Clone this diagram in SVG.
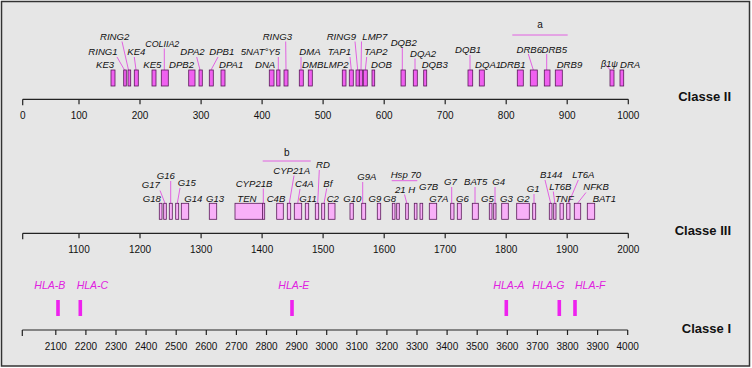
<svg xmlns="http://www.w3.org/2000/svg" width="752" height="368" viewBox="0 0 752 368">
<style>
text{font-family:"Liberation Sans",Arial,sans-serif;fill:#111}
.g{font-size:9.6px;font-style:italic}
.t{font-size:10px}
.c{font-size:13px;font-weight:bold;text-anchor:end}
.h{font-size:10.5px;font-style:italic;fill:#e020e0}
.n{text-anchor:middle}
.b1{fill:#f060f0;stroke:#5a1a5a;stroke-width:0.8}
.b2{fill:#f8b0f8;stroke:#5a1a5a;stroke-width:0.8}
.ld{stroke:#e040e0;stroke-width:0.8;fill:none}
.ax{stroke:#222;stroke-width:1.2;fill:none}
.hb{fill:#ee22ee}
</style>
<rect x="0" y="0" width="752" height="368" fill="#fff"/>
<rect x="1.5" y="1.5" width="748" height="364.5" fill="#e6e6e6" stroke="#333" stroke-width="1.5"/>

<g id="axis-classe-II">
<path class="ax" d="M22.7 99.3H628.3M22.7 99.3v6M79 99.3v5M140 99.3v5M201.1 99.3v5M262.1 99.3v5M323.1 99.3v5M384.2 99.3v5M445.2 99.3v5M506.2 99.3v5M567.2 99.3v5M628.3 99.3v5"/>
<g class="t n">
<text x="22.7" y="119.3">0</text><text x="79" y="119.3">100</text><text x="140" y="119.3">200</text><text x="201.1" y="119.3">300</text><text x="262.1" y="119.3">400</text><text x="323.1" y="119.3">500</text><text x="384.2" y="119.3">600</text><text x="445.2" y="119.3">700</text><text x="506.2" y="119.3">800</text><text x="567.2" y="119.3">900</text><text x="628.3" y="119.3">1000</text>
</g>
<text class="c" x="731" y="101">Classe II</text>
</g>

<g id="axis-classe-III">
<path class="ax" d="M22.7 233.3H628.3M22.7 233.3v6M79 233.3v5M140 233.3v5M201.1 233.3v5M262.1 233.3v5M323.1 233.3v5M384.2 233.3v5M445.2 233.3v5M506.2 233.3v5M567.2 233.3v5M628.3 233.3v5"/>
<g class="t n">
<text x="79" y="253.3">1100</text><text x="140" y="253.3">1200</text><text x="201.1" y="253.3">1300</text><text x="262.1" y="253.3">1400</text><text x="323.1" y="253.3">1500</text><text x="384.2" y="253.3">1600</text><text x="445.2" y="253.3">1700</text><text x="506.2" y="253.3">1800</text><text x="567.2" y="253.3">1900</text><text x="628.3" y="253.3">2000</text>
</g>
<text class="c" x="731" y="234.5">Classe III</text>
</g>

<g id="axis-classe-I">
<path class="ax" d="M22.3 330H627.7M22.3 330v6M55.8 330v5M85.9 330v5M116 330v5M146.1 330v5M176.2 330v5M206.3 330v5M236.4 330v5M266.5 330v5M296.6 330v5M326.7 330v5M356.8 330v5M386.9 330v5M417 330v5M447.1 330v5M477.2 330v5M507.3 330v5M537.4 330v5M567.5 330v5M597.6 330v5M627.7 330v5"/>
<g class="t n">
<text x="55.8" y="350">2100</text><text x="85.9" y="350">2200</text><text x="116" y="350">2300</text><text x="146.1" y="350">2400</text><text x="176.2" y="350">2500</text><text x="206.3" y="350">2600</text><text x="236.4" y="350">2700</text><text x="266.5" y="350">2800</text><text x="296.6" y="350">2900</text><text x="326.7" y="350">3000</text><text x="356.8" y="350">3100</text><text x="386.9" y="350">3200</text><text x="417" y="350">3300</text><text x="447.1" y="350">3400</text><text x="477.2" y="350">3500</text><text x="507.3" y="350">3600</text><text x="537.4" y="350">3700</text><text x="567.5" y="350">3800</text><text x="597.6" y="350">3900</text><text x="627.7" y="350">4000</text>
</g>
<text class="c" x="731" y="333">Classe I</text>
</g>

<g id="connectors">
<path class="ld" d="M122 41.5L128.5 70M117 57L124.5 70M134.3 57L136 70M164.3 48.5V70M196.7 57L200 70M218 57L211 70M278.3 57V70M285.7 41.5L286 70M301 57V70M350 57L351.3 70M355 41.5L357.7 70M361.5 41.5L361 70M366.7 57L365.3 70M402.3 48V70M415 58.5V70M470 55V70M528.3 54L533.3 70M546.7 54V70M606 65L611 71"/>
<path class="ld" d="M512.3 35H567.7"/>
<path class="ld" d="M160 190.5L165 203.3M170.7 181V203.3M180 188L177.3 203.3M263.3 188.5V203.3M294 175.5L289.3 203.3M300 189L297.7 203.3M319.3 170L317.7 203.3M326.7 188.5L324 203.3M362.7 182V203.3M404.5 194.5L406.8 203.3M451.7 187V203.3M475 187V203.3M495 187V203.3M534 194V203.3M545 180L550.7 203.3M553.3 191.5L554.8 203.3M578.3 180L568.5 203.3M586 192.5L577.5 203.3"/>
<path class="ld" d="M262.7 161H310.7M391.7 180.7H417.3"/>
</g>

<g id="classe-II-genes">
<g id="KE3"><rect class="b1" x="111" y="70" width="4" height="16"/><text class="g" x="96" y="68">KE3</text></g>
<g id="RING1"><rect class="b1" x="123.7" y="70" width="2.6" height="16"/><text class="g" x="88.3" y="55">RING1</text></g>
<g id="RING2"><rect class="b1" x="128" y="70" width="2.7" height="16"/><text class="g" x="100" y="40">RING2</text></g>
<g id="KE4"><rect class="b1" x="134.3" y="70" width="4" height="16"/><text class="g" x="127.3" y="55">KE4</text></g>
<g id="KE5"><rect class="b1" x="152" y="70" width="4" height="16"/><text class="g" x="143.3" y="68">KE5</text></g>
<g id="COLIIA2"><rect class="b1" x="161.3" y="70" width="7" height="16"/><text class="g" x="145.3" y="47" textLength="34" lengthAdjust="spacingAndGlyphs">COLIIA2</text></g>
<g id="DPB2"><rect class="b1" x="188.7" y="70" width="6.3" height="16"/><text class="g" x="169" y="68">DPB2</text></g>
<g id="DPA2"><rect class="b1" x="199" y="70" width="3.3" height="16"/><text class="g" x="180.3" y="55">DPA2</text></g>
<g id="DPB1"><rect class="b1" x="209.3" y="70" width="4" height="16"/><text class="g" x="209.3" y="55">DPB1</text></g>
<g id="DPA1"><rect class="b1" x="221" y="70" width="4" height="16"/><text class="g" x="219" y="68">DPA1</text></g>
<g id="DNA"><rect class="b1" x="269.3" y="70" width="4.7" height="16"/><text class="g" x="255" y="68">DNA</text></g>
<g id="5NATY5"><rect class="b1" x="276.7" y="70" width="3.3" height="16"/><text class="g" x="240.7" y="55">5NAT°Y5</text></g>
<g id="RING3"><rect class="b1" x="284" y="70" width="4" height="16"/><text class="g" x="262.7" y="40">RING3</text></g>
<g id="DMA"><rect class="b1" x="299.3" y="70" width="4" height="16"/><text class="g" x="299.3" y="55">DMA</text></g>
<g id="DMB"><rect class="b1" x="308.3" y="70" width="4" height="16"/><text class="g" x="302" y="68">DMB</text></g>
<g id="LMP2"><rect class="b1" x="342.3" y="70" width="3.7" height="16"/><text class="g" x="323.5" y="68">LMP2</text></g>
<g id="TAP1"><rect class="b1" x="349.3" y="70" width="4" height="16"/><text class="g" x="327.7" y="55">TAP1</text></g>
<g id="RING9"><rect class="b1" x="356" y="70" width="3.3" height="16"/><text class="g" x="326.7" y="40">RING9</text></g>
<g id="LMP7"><rect class="b1" x="359.3" y="70" width="3.4" height="16"/><text class="g" x="362.3" y="40">LMP7</text></g>
<g id="TAP2"><rect class="b1" x="363.3" y="70" width="4" height="16"/><text class="g" x="364.3" y="55">TAP2</text></g>
<g id="DOB"><rect class="b1" x="372" y="70" width="2.7" height="16"/><text class="g" x="371" y="68">DOB</text></g>
<g id="DQB2"><rect class="b1" x="401" y="70" width="4.3" height="16"/><text class="g" x="390.7" y="46">DQB2</text></g>
<g id="DQA2"><rect class="b1" x="413.3" y="70" width="4" height="16"/><text class="g" x="410" y="57">DQA2</text></g>
<g id="DQB3"><rect class="b1" x="423.7" y="70" width="3" height="16"/><text class="g" x="421.7" y="68">DQB3</text></g>
<g id="DQB1"><rect class="b1" x="468" y="70" width="4.7" height="16"/><text class="g" x="455" y="53">DQB1</text></g>
<g id="DQA1"><rect class="b1" x="479.3" y="70" width="5" height="16"/><text class="g" x="475" y="68">DQA1</text></g>
<g id="DRB1"><rect class="b1" x="517.3" y="70" width="6" height="16"/><text class="g" x="500" y="68">DRB1</text></g>
<g id="DRB6"><rect class="b1" x="530.3" y="70" width="7" height="16"/><text class="g" x="516.5" y="52.7">DRB6</text></g>
<g id="DRB5"><rect class="b1" x="544.3" y="70" width="5.7" height="16"/><text class="g" x="541.5" y="52.7">DRB5</text></g>
<g id="DRB9"><rect class="b1" x="555.3" y="70" width="7" height="16"/><text class="g" x="556.7" y="68">DRB9</text></g>
<g id="B1psi"><rect class="b1" x="610" y="70" width="4" height="16"/><text class="g" x="601" y="66.5" style="font-size:9px">β1ψ</text></g>
<g id="DRA"><rect class="b1" x="620" y="70" width="3.7" height="16"/><text class="g" x="620" y="68">DRA</text></g>
<g id="a"><text class="t n" x="540" y="28.3">a</text></g>
</g>

<g id="classe-III-genes">
<g id="G18"><rect class="b2" x="159.3" y="203.3" width="2.7" height="16"/><text class="g" x="142.7" y="201.7">G18</text></g>
<g id="G17"><rect class="b2" x="163.7" y="203.3" width="2.6" height="16"/><text class="g" x="141.7" y="188.3">G17</text></g>
<g id="G16"><rect class="b2" x="169.3" y="203.3" width="3" height="16"/><text class="g" x="156.7" y="179">G16</text></g>
<g id="G15"><rect class="b2" x="175.7" y="203.3" width="3" height="16"/><text class="g" x="177.7" y="185.7">G15</text></g>
<g id="G14"><rect class="b2" x="181.3" y="203.3" width="7.4" height="16"/><text class="g" x="184.3" y="201.7">G14</text></g>
<g id="G13"><rect class="b2" x="209.3" y="203.3" width="7.4" height="16"/><text class="g" x="206" y="201.7">G13</text></g>
<g id="TEN"><rect class="b2" x="235" y="203.3" width="27.7" height="16"/><text class="g" x="237.3" y="201.7">TEN</text></g>
<g id="CYP21B"><rect class="b2" x="262.7" y="203.3" width="2" height="16"/><text class="g" x="235.7" y="186.7">CYP21B</text></g>
<g id="C4B"><rect class="b2" x="276.7" y="203.3" width="6.6" height="16"/><text class="g" x="266.7" y="201.7">C4B</text></g>
<g id="CYP21A"><rect class="b2" x="287.3" y="203.3" width="3.4" height="16"/><text class="g" x="273.3" y="174">CYP21A</text></g>
<g id="C4A"><rect class="b2" x="294.3" y="203.3" width="7.4" height="16"/><text class="g" x="295" y="187.3">C4A</text></g>
<g id="G11"><rect class="b2" x="305.3" y="203.3" width="3.4" height="16"/><text class="g" x="299.3" y="201.7">G11</text></g>
<g id="RD"><rect class="b2" x="315.3" y="203.3" width="3.4" height="16"/><text class="g" x="316" y="168.3">RD</text></g>
<g id="Bf"><rect class="b2" x="321.7" y="203.3" width="3" height="16"/><text class="g" x="323.3" y="186.7">Bf</text></g>
<g id="C2"><rect class="b2" x="328.3" y="203.3" width="6.7" height="16"/><text class="g" x="326.7" y="201.7">C2</text></g>
<g id="G10"><rect class="b2" x="350" y="203.3" width="3.3" height="16"/><text class="g" x="343.3" y="201.7">G10</text></g>
<g id="G9A"><rect class="b2" x="361.7" y="203.3" width="4" height="16"/><text class="g" x="357.3" y="180">G9A</text></g>
<g id="G9"><rect class="b2" x="377.3" y="203.3" width="3.4" height="16"/><text class="g" x="368.5" y="201.7">G9</text></g>
<g id="G8"><rect class="b2" x="392.3" y="203.3" width="2.7" height="16"/><rect class="b2" x="396.7" y="203.3" width="2.6" height="16"/><text class="g" x="383.3" y="201.7">G8</text></g>
<g id="Hsp70"><text class="g" x="390.7" y="178">Hsp 70</text></g>
<g id="21H"><rect class="b2" x="405.7" y="203.3" width="2.6" height="16"/><rect class="b2" x="414.3" y="203.3" width="2.7" height="16"/><text class="g" x="395" y="192.7">21 H</text></g>
<g id="G7B"><rect class="b2" x="420" y="203.3" width="2.7" height="16"/><text class="g" x="419" y="190">G7B</text></g>
<g id="G7A"><rect class="b2" x="429.3" y="203.3" width="7.4" height="16"/><text class="g" x="429.3" y="201.7">G7A</text></g>
<g id="G7"><rect class="b2" x="450.7" y="203.3" width="3.3" height="16"/><text class="g" x="444" y="185">G7</text></g>
<g id="G6"><rect class="b2" x="457.3" y="203.3" width="4" height="16"/><text class="g" x="456" y="201.7">G6</text></g>
<g id="BAT5"><rect class="b2" x="472.3" y="203.3" width="6" height="16"/><text class="g" x="464" y="185">BAT5</text></g>
<g id="G5"><rect class="b2" x="489.3" y="203.3" width="2.7" height="16"/><text class="g" x="481" y="201.7">G5</text></g>
<g id="G4"><rect class="b2" x="493.7" y="203.3" width="2.3" height="16"/><text class="g" x="492.3" y="185">G4</text></g>
<g id="G3"><rect class="b2" x="501.7" y="203.3" width="6.6" height="16"/><text class="g" x="500" y="201.7">G3</text></g>
<g id="G2"><rect class="b2" x="516.7" y="203.3" width="12.6" height="16"/><text class="g" x="516.7" y="201.7">G2</text></g>
<g id="G1"><rect class="b2" x="532.7" y="203.3" width="3" height="16"/><text class="g" x="526.7" y="192">G1</text></g>
<g id="B144"><rect class="b2" x="549.3" y="203.3" width="2.7" height="16"/><text class="g" x="540" y="178.3">B144</text></g>
<g id="LT6B"><rect class="b2" x="553.7" y="203.3" width="2.3" height="16"/><text class="g" x="549.3" y="190">LT6B</text></g>
<g id="TNF"><rect class="b2" x="560" y="203.3" width="3.3" height="16"/><text class="g" x="555" y="201.7">TNF</text></g>
<g id="LT6A"><rect class="b2" x="566.7" y="203.3" width="3.3" height="16"/><text class="g" x="572.3" y="178.3">LT6A</text></g>
<g id="NFKB"><rect class="b2" x="574.3" y="203.3" width="6.4" height="16"/><text class="g" x="583.3" y="190">NFKB</text></g>
<g id="BAT1"><rect class="b2" x="587.3" y="203.3" width="7.4" height="16"/><text class="g" x="592.7" y="201.7">BAT1</text></g>
<g id="b"><text class="t n" x="286.7" y="156">b</text></g>
</g>

<g id="classe-I-genes">
<g id="HLA-B"><rect class="hb" x="56.2" y="300" width="3.6" height="16"/><text class="h" x="34.3" y="289.3">HLA-B</text></g>
<g id="HLA-C"><rect class="hb" x="78.5" y="300" width="3.6" height="16"/><text class="h" x="76.7" y="289.3">HLA-C</text></g>
<g id="HLA-E"><rect class="hb" x="290.2" y="300" width="3.6" height="16"/><text class="h" x="278.3" y="289.3">HLA-E</text></g>
<g id="HLA-A"><rect class="hb" x="504.5" y="300" width="3.6" height="16"/><text class="h" x="493.3" y="289.3">HLA-A</text></g>
<g id="HLA-G"><rect class="hb" x="557.5" y="300" width="3.6" height="16"/><text class="h" x="532.3" y="289.3">HLA-G</text></g>
<g id="HLA-F"><rect class="hb" x="573.2" y="300" width="3.6" height="16"/><text class="h" x="575" y="289.3">HLA-F</text></g>
</g>
</svg>
